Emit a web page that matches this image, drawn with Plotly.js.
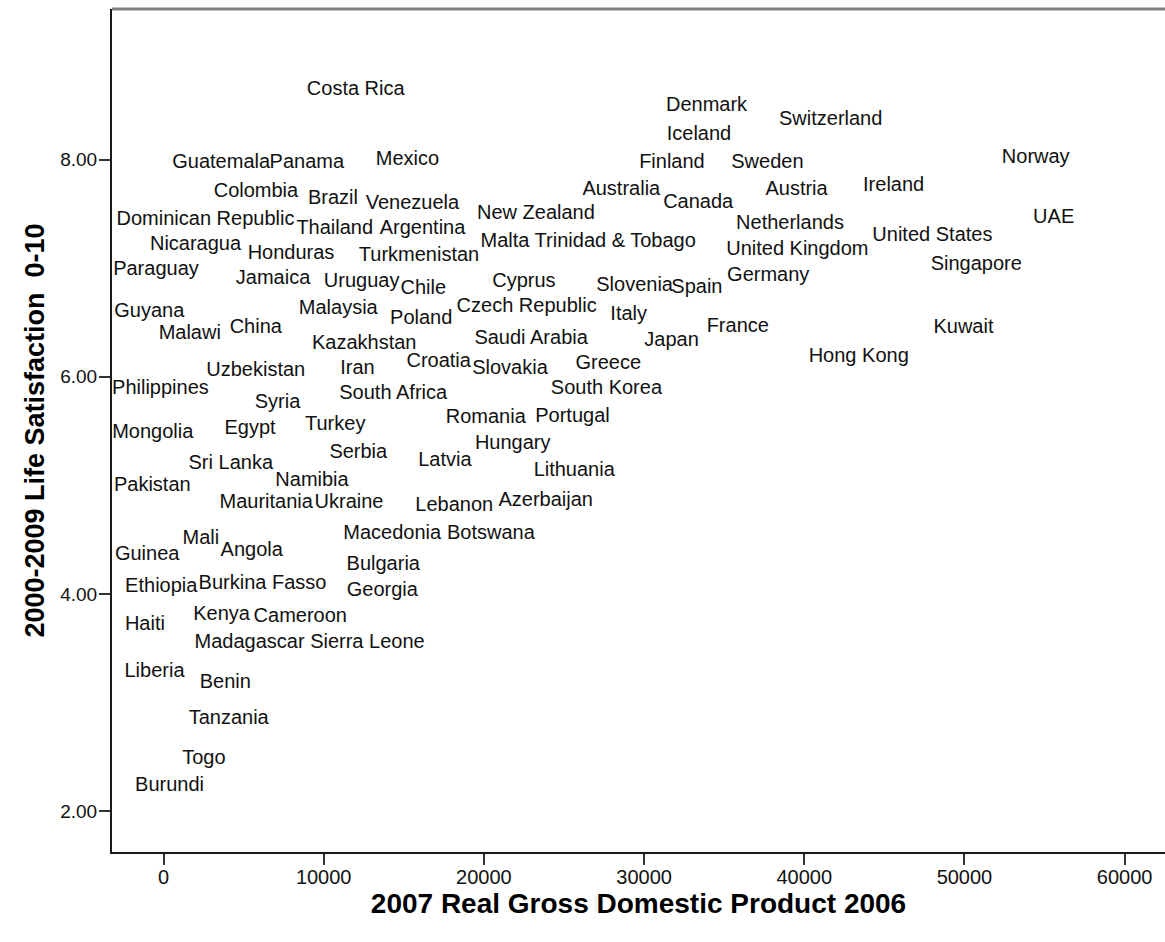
<!DOCTYPE html>
<html>
<head>
<meta charset="utf-8">
<script src="https://cdn.plot.ly/plotly-3.0.1.min.js"></script>
<style>
  html, body { margin: 0; padding: 0; background: #ffffff; }
  #chart { width: 1165px; height: 942px; }
</style>
</head>
<body>
<div id="chart"></div>
<script>
// Country labels (SPSS-style scatter with marker labels only)
const countries = [
  "Costa Rica", "Denmark", "Switzerland", "Iceland",
  "Guatemala", "Panama", "Mexico", "Finland", "Sweden", "Norway",
  "Colombia", "Brazil", "Venezuela", "Australia", "Austria", "Ireland", "Canada",
  "Dominican Republic", "Thailand", "Argentina", "New Zealand", "Netherlands", "UAE",
  "Nicaragua", "Honduras", "Turkmenistan", "Malta", "Trinidad & Tobago", "United Kingdom", "United States",
  "Paraguay", "Jamaica", "Uruguay", "Chile", "Cyprus", "Slovenia", "Spain", "Germany", "Singapore",
  "Guyana", "Malaysia", "Poland", "Czech Republic", "Italy",
  "Malawi", "China", "Kazakhstan", "Saudi Arabia", "Japan", "France", "Kuwait",
  "Uzbekistan", "Iran", "Croatia", "Slovakia", "Greece", "Hong Kong",
  "Philippines", "South Africa", "South Korea",
  "Syria", "Romania", "Portugal",
  "Mongolia", "Egypt", "Turkey", "Hungary",
  "Serbia", "Sri Lanka", "Latvia", "Lithuania",
  "Namibia", "Pakistan", "Mauritania", "Ukraine", "Lebanon", "Azerbaijan",
  "Macedonia", "Botswana", "Mali", "Guinea", "Angola", "Bulgaria",
  "Ethiopia", "Burkina Fasso", "Georgia",
  "Kenya", "Cameroon", "Haiti", "Madagascar", "Sierra Leone",
  "Liberia", "Benin", "Tanzania", "Togo", "Burundi"
];

// 2007 Real Gross Domestic Product 2006 (label positions)
const gdp = [
  12000, 33900, 41650, 33430,
  3600, 8950, 15230, 31740, 37700, 54450,
  5770, 10580, 15540, 28580, 39520, 45580, 33380,
  2620, 10690, 16170, 23250, 39110, 55570,
  2000, 7960, 15950, 21320, 28200, 39570, 48000,
  -470, 6840, 12370, 16220, 22500, 29410, 33300, 37750, 50740,
  -890, 10910, 16090, 22670, 29040,
  1640, 5760, 12530, 22950, 31720, 35850, 49940,
  5760, 12110, 17180, 21630, 27770, 43400,
  -190, 14340, 27650,
  7120, 20120, 25530,
  -670, 5400, 10720, 21800,
  12160, 4200, 17570, 25640,
  9270, -700, 6410, 11580, 18150, 23860,
  14280, 20440, 2330, -1020, 5510, 13720,
  -140, 6180, 13660,
  3630, 8540, -1160, 5370, 12730,
  -560, 3860, 4070, 2520, 380
];

// 2000-2009 Life Satisfaction 0-10
const lifeSat = [
  8.64, 8.49, 8.36, 8.23,
  7.97, 7.97, 8.00, 7.97, 7.97, 8.01,
  7.70, 7.64, 7.59, 7.72, 7.72, 7.76, 7.60,
  7.44, 7.36, 7.36, 7.50, 7.41, 7.46,
  7.21, 7.13, 7.11, 7.24, 7.24, 7.17, 7.30,
  6.98, 6.90, 6.87, 6.81, 6.87, 6.84, 6.82, 6.93, 7.03,
  6.60, 6.62, 6.53, 6.64, 6.57,
  6.39, 6.45, 6.30, 6.35, 6.33, 6.46, 6.45,
  6.05, 6.07, 6.14, 6.07, 6.12, 6.18,
  5.89, 5.84, 5.89,
  5.76, 5.62, 5.63,
  5.48, 5.52, 5.56, 5.38,
  5.30, 5.20, 5.22, 5.13,
  5.04, 4.99, 4.84, 4.84, 4.81, 4.86,
  4.55, 4.55, 4.51, 4.36, 4.40, 4.27,
  4.06, 4.09, 4.03,
  3.81, 3.79, 3.71, 3.55, 3.55,
  3.28, 3.18, 2.85, 2.48, 2.23
];

const xTickVals = [0, 10000, 20000, 30000, 40000, 50000, 60000];
const yTickVals = [2, 4, 6, 8];

const FONT = "Liberation Sans, Arial, Helvetica, sans-serif";

const trace = {
  type: "scatter",
  mode: "text",
  x: gdp,
  y: lifeSat,
  text: countries,
  textposition: "middle center",
  textfont: { family: FONT, size: 20, color: "#111111" },
  cliponaxis: false,
  hoverinfo: "text"
};

const layout = {
  width: 1165,
  height: 942,
  margin: { l: 112, r: 0, t: 9, b: 90, pad: 0 },
  paper_bgcolor: "#ffffff",
  plot_bgcolor: "#ffffff",
  showlegend: false,
  font: { family: FONT, color: "#111111" },
  xaxis: {
    range: [-3215, 62520],
    tickvals: xTickVals,
    tickformat: "d",
    showgrid: false,
    zeroline: false,
    showline: true,
    linecolor: "#1a1a1a",
    linewidth: 2,
    ticks: "outside",
    ticklen: 11,
    tickwidth: 2,
    tickcolor: "#333333",
    ticklabelstandoff: -5,
    tickfont: { family: FONT, size: 20, color: "#111111" },
    title: {
      text: "2007 Real Gross Domestic Product 2006",
      font: { family: FONT, size: 28, color: "#000000", weight: "bold" },
      standoff: 6
    }
  },
  yaxis: {
    range: [1.624, 9.386],
    tickvals: yTickVals,
    tickformat: ".2f",
    showgrid: false,
    zeroline: false,
    showline: true,
    linecolor: "#1a1a1a",
    linewidth: 2,
    ticks: "outside",
    ticklen: 11,
    tickwidth: 2,
    tickcolor: "#333333",
    ticklabelstandoff: -2,
    tickfont: { family: FONT, size: 19, color: "#111111" },
    title: {
      text: "2000-2009 Life Satisfaction  0-10",
      font: { family: FONT, size: 27, color: "#000000", weight: "bold" },
      standoff: 8
    }
  },
  shapes: [
    {
      type: "line", xref: "paper", yref: "paper",
      x0: 0, x1: 1, y0: 1, y1: 1,
      line: { color: "#808080", width: 3 }
    }
  ]
};

Plotly.newPlot("chart", [trace], layout, { displayModeBar: false, staticPlot: true });
</script>
</body>
</html>
